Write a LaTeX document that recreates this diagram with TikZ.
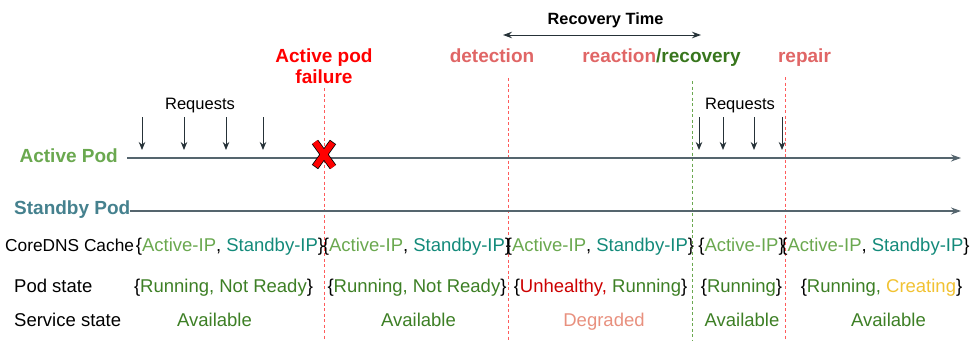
\documentclass[tikz,border=0pt]{standalone}
\usepackage{fontspec}
\setmainfont{Liberation Sans}
\usetikzlibrary{arrows.meta}
\definecolor{lineC}{HTML}{55656E}
\definecolor{arrC}{HTML}{263238}
\definecolor{failred}{HTML}{FF0000}
\definecolor{evred}{HTML}{E06666}
\definecolor{dashred}{HTML}{FF5B5B}
\definecolor{recgreen}{HTML}{38761D}
\definecolor{actgreen}{HTML}{6AA84F}
\definecolor{stbteal}{HTML}{45818E}
\definecolor{ipteal}{HTML}{138A7A}
\definecolor{rungreen}{HTML}{3D7F25}
\definecolor{unhred}{HTML}{CC0000}
\definecolor{creyel}{HTML}{F1C232}
\definecolor{degr}{HTML}{E8907E}
\definecolor{dashgreen}{HTML}{6AA84F}
\begin{document}
\begin{tikzpicture}[x=1pt,y=-1pt,
  bigbold/.style={font=\fontsize{19}{21}\selectfont\bfseries, inner sep=0pt, anchor=base},
  rowtxt/.style={font=\fontsize{18.5}{20}\selectfont, inner sep=0pt, anchor=base},
  reqtxt/.style={font=\fontsize{16.5}{18}\selectfont, inner sep=0pt, anchor=base},
  podline/.style={draw=lineC, line width=1.1pt, -{Stealth[length=10pt,width=7pt]}},
  reqarrow/.style={draw=arrC, line width=1pt, -{Stealth[length=8pt,width=6.5pt]}},
  evdash/.style={draw=dashred, line width=1pt, dash pattern=on 3pt off 2.5pt},
  recdash/.style={draw=dashgreen, line width=1pt, dash pattern=on 3pt off 2.5pt}]
\useasboundingbox (0,0) rectangle (971,340);

% ---- top labels
\node[font=\fontsize{16.3}{18}\selectfont\bfseries, inner sep=0pt, anchor=base] (rtime) at (605.5,24) {Recovery Time};
\coordinate (rtl) at (503,35);
\coordinate (rtr) at (701,35);
\draw[draw=arrC, line width=1pt, {Stealth[length=9pt,width=6.5pt]}-{Stealth[length=9pt,width=6.5pt]}] (rtl) -- (rtr);

\node[bigbold, text=failred] (fail1) at (324,62) {Active pod};
\node[bigbold, text=failred] (fail2) at (324,83) {failure};
\node[bigbold, text=evred] (det) at (492,62) {detection};
\node[bigbold] (reac) at (661.5,62) {\textcolor{evred}{reaction}\textcolor{recgreen}{/recovery}};
\node[bigbold, text=evred] (rep) at (804.5,62) {repair};

% ---- dashed event lines
\coordinate (ft) at (324,88);   \coordinate (fb) at (324,340);
\coordinate (dt) at (508,78);   \coordinate (db) at (508,340);
\coordinate (vt) at (692,81);   \coordinate (vb) at (692,340);
\coordinate (pt) at (785,77);   \coordinate (pb) at (785,340);
\draw[evdash] (ft) -- (fb);
\draw[evdash] (dt) -- (db);
\draw[recdash] (vt) -- (vb);
\draw[evdash] (pt) -- (pb);

% ---- pods
\node[bigbold, text=actgreen, anchor=base east] (act) at (118,162) {Active Pod};
\node[bigbold, text=stbteal, anchor=base west] (stb) at (14,214) {Standby Pod};
\coordinate (as) at (127,158); \coordinate (ae) at (961,158);
\coordinate (ss) at (130,211); \coordinate (se) at (961,211);
\draw[podline] (as) -- (ae);
\draw[podline] (ss) -- (se);

% ---- requests
\node[reqtxt] (req1) at (200,109) {Requests};
\node[reqtxt] (req2) at (740,109) {Requests};
\foreach \i/\xx in {a/142,b/184,c/226,d/263,e/699,f/723,g/754,h/782}{
  \coordinate (rq\i t) at (\xx,117);
  \coordinate (rq\i b) at (\xx,150);
  \draw[reqarrow] (rq\i t) -- (rq\i b);
}

% ---- red X
\coordinate (x1) at (315,142); \coordinate (x2) at (333,167);
\coordinate (x3) at (333,142); \coordinate (x4) at (315,167);
\draw[black, line width=7.6pt] (x1) -- (x2) (x3) -- (x4);
\draw[failred, line width=6pt, shorten <=0.8pt, shorten >=0.8pt] (x1) -- (x2) (x3) -- (x4);

% ---- CoreDNS cache row
\node[font=\fontsize{17.3}{20}\selectfont, inner sep=0pt, anchor=base west] (dnsl) at (5,251) {CoreDNS Cache};
\node[rowtxt] (dns1) at (230,251) {\{\textcolor{actgreen}{Active-IP}, \textcolor{ipteal}{Standby-IP}\}};
\node[rowtxt] (dns2) at (417,251) {\{\textcolor{actgreen}{Active-IP}, \textcolor{ipteal}{Standby-IP}\}};
\node[rowtxt] (dns3) at (600,251) {\{\textcolor{actgreen}{Active-IP}, \textcolor{ipteal}{Standby-IP}\}};
\node[rowtxt] (dns4) at (741.5,251) {\{\textcolor{actgreen}{Active-IP}\}};
\node[rowtxt] (dns5) at (875.5,251) {\{\textcolor{actgreen}{Active-IP}, \textcolor{ipteal}{Standby-IP}\}};

% ---- Pod state row
\node[rowtxt, anchor=base west] (psl) at (14,292) {Pod state};
\node[rowtxt] (ps1) at (223.5,292) {\{\textcolor{rungreen}{Running, Not Ready}\}};
\node[rowtxt] (ps2) at (417,292) {\{\textcolor{rungreen}{Running, Not Ready}\}};
\node[rowtxt] (ps3) at (600.5,292) {\{\textcolor{unhred}{Unhealthy,} \textcolor{rungreen}{Running}\}};
\node[rowtxt] (ps4) at (741.5,292) {\{\textcolor{rungreen}{Running}\}};
\node[rowtxt] (ps5) at (881.5,292) {\{\textcolor{rungreen}{Running,} \textcolor{creyel}{Creating}\}};

% ---- Service state row
\node[rowtxt, anchor=base west] (ssl) at (14,326) {Service state};
\node[rowtxt, text=rungreen] (sv1) at (214.5,326) {Available};
\node[rowtxt, text=rungreen] (sv2) at (418.5,326) {Available};
\node[rowtxt, text=degr] (sv3) at (604,326) {Degraded};
\node[rowtxt, text=rungreen] (sv4) at (742,326) {Available};
\node[rowtxt, text=rungreen] (sv5) at (888.5,326) {Available};
\end{tikzpicture}
\end{document}
